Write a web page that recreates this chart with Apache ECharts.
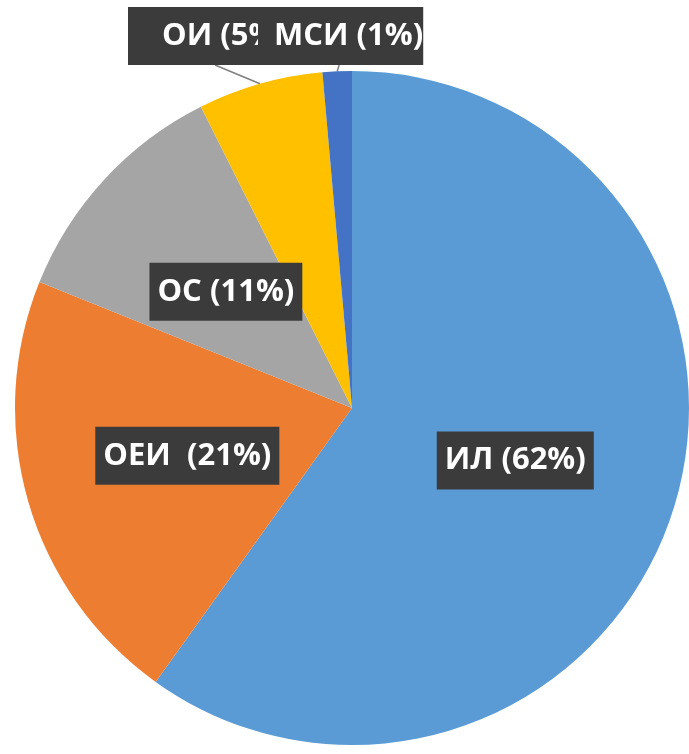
<!DOCTYPE html>
<html><head><meta charset="utf-8">
<script src="https://cdn.jsdelivr.net/npm/echarts@6/dist/echarts.min.js"></script>
<style>html,body{margin:0;padding:0;background:#fff}#c{width:689px;height:754px}</style>
</head><body><div id="c"></div>
<script>
const categories = ['ИЛ (62%)', 'ОЕИ  (21%)', 'ОС (11%)', 'ОИ (5%)', 'МСИ (1%)'];
const values = [59.9, 21.2, 11.5, 6.0, 1.4];
const colors = ['#5b9bd5', '#ed7d31', '#a5a5a5', '#ffc000', '#4472c4'];
const outsideLabelPos = { 'ОИ (5%)': [128, 7], 'МСИ (1%)': [258, 7] };
const outsidePadding = { 'ОИ (5%)': [12, 10, 12, 34], 'МСИ (1%)': [12, 0, 12, 16] };
const leaderEndOffset = { 'ОИ (5%)': 87, 'МСИ (1%)': null };

const chart = echarts.init(document.getElementById('c'));
const labelBase = {
  color: '#fff', fontFamily: 'Open Sans', fontWeight: 'bold', fontSize: 31, lineHeight: 34,
  backgroundColor: '#3b3b3b', padding: [12, 8, 12, 8], formatter: '{b}', overflow: 'none'
};
chart.setOption({
  animation: false,
  series: [{
    type: 'pie',
    center: [352, 408],
    radius: [0, 337],
    startAngle: 90,
    clockwise: true,
    data: categories.map((name, i) => {
      const outside = outsideLabelPos[name] !== undefined;
      const lab = Object.assign({}, labelBase, { position: outside ? 'outside' : 'inside' });
      if (outside) lab.padding = outsidePadding[name];
      return {
        name, value: values[i],
        itemStyle: { color: colors[i] },
        label: lab,
        labelLine: { show: outside, length: 10, length2: 10, lineStyle: { color: '#7f7f7f', width: 1.5 } }
      };
    }),
    labelLayout: function (params) {
      const name = categories[params.dataIndex];
      const p = outsideLabelPos[name];
      if (p) {
        const res = { x: p[0], y: p[1], align: 'left', verticalAlign: 'top' };
        const pts = params.labelLinePoints;
        if (pts && pts.length) {
          const s = pts[0];
          const bottom = p[1] + params.labelRect.height;
          const off = leaderEndOffset[name];
          const end = [off === null ? s[0] + 2 : p[0] + off, bottom];
          res.labelLinePoints = [s, end, end];
        }
        return res;
      }
      return {};
    }
  }]
});
</script></body></html>
